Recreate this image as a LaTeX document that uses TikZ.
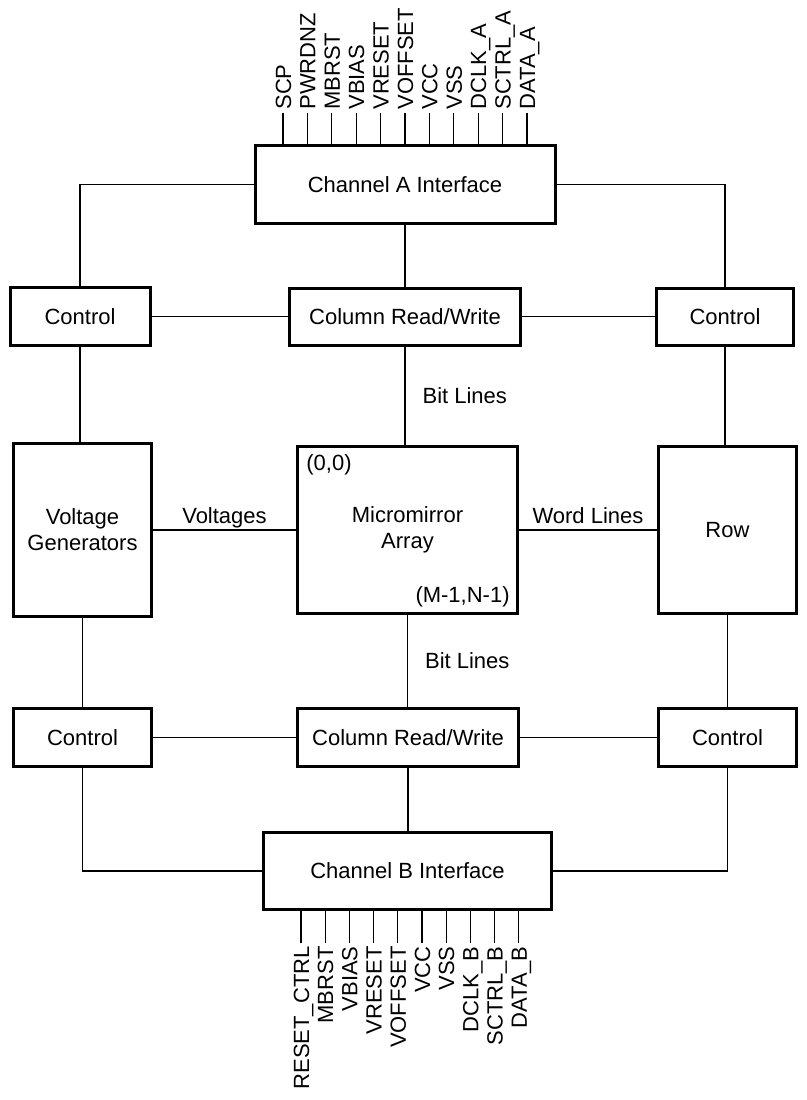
\documentclass[tikz,border=0pt]{standalone}
\usepackage{fontspec}
\setmainfont{Liberation Sans}
\usepackage{tikz}

\begin{document}
\begin{tikzpicture}[
		x=0.5pt, y=-0.5pt,
		blk/.style={draw, line width=1.5pt, inner sep=0pt, align=center,
			font=\fontsize{11}{13}\selectfont},
		wire/.style={line width=0.6pt},
		sig/.style={inner sep=0.5pt, font=\fontsize{11}{13}\selectfont},
		pinlbl/.style={rotate=90, inner sep=1.5pt, text height=8pt, text depth=0pt,
			font=\fontsize{11}{13}\selectfont}
	]
	\useasboundingbox (0,0) rectangle (807,1100);

	% blocks
	\node[blk, minimum width=150pt, minimum height=39pt] (chA)
		at (405,184.5) {Channel A Interface};
	\node[blk, minimum width=70pt, minimum height=29pt] (ctlAL)
		at (80,316.5) {Control};
	\node[blk, minimum width=115.5pt, minimum height=28.5pt] (colA)
		at (405,316.5) {Column Read/Write};
	\node[blk, minimum width=68.5pt, minimum height=28.5pt] (ctlAR)
		at (725,316.5) {Control};
	\node[blk, minimum width=69pt, minimum height=86.5pt] (volt)
		at (82.5,530) {Voltage\\Generators};
	\node[blk, minimum width=110pt, minimum height=83.5pt] (mma)
		at (407.5,530) {Micromirror\\Array};
	\node[blk, minimum width=69pt, minimum height=83.5pt] (row)
		at (727.5,530) {Row};
	\node[blk, minimum width=69pt, minimum height=29pt] (ctlBL)
		at (82.5,737.5) {Control};
	\node[blk, minimum width=110.5pt, minimum height=29pt] (colB)
		at (408,737.5) {Column Read/Write};
	\node[blk, minimum width=69pt, minimum height=29pt] (ctlBR)
		at (727.5,737.5) {Control};
	\node[blk, minimum width=144pt, minimum height=38.5pt] (chB)
		at (407.5,871) {Channel B Interface};

	% array corners
	\node[sig, anchor=west] (orig) at (305,465) {(0,0)};
	\node[sig, anchor=east] (last) at (511,597) {(M-1,N-1)};

	% connections
	\draw[wire]
		(chA.west) -| (ctlAL.north)
		(chA.east) -| (ctlAR.north)
		(chA.south) -- (chA.south |- colA.north)
		(ctlAL.east) -- (colA.west)
		(colA.east) -- (ctlAR.west)
		(ctlAL.south) -- (ctlAL.south |- volt.north)
		(ctlAR.south) -- (ctlAR.south |- row.north)
		(volt.south) -- (volt.south |- ctlBL.north)
		(row.south) -- (row.south |- ctlBR.north)
		(ctlBL.east) -- (colB.west)
		(colB.east) -- (ctlBR.west)
		(colB.south) -- (colB.south |- chB.north)
		(chB.west) -| (ctlBL.south)
		(chB.east) -| (ctlBR.south);
	\draw[wire]
		(colA.south) -- node[sig, right=8pt] {Bit Lines}
			(colA.south |- mma.north);
	\draw[wire]
		(mma.south) -- node[sig, right=8pt] {Bit Lines}
			(mma.south |- colB.north);
	\draw[wire]
		(volt.east) -- node[sig, above, text depth=2.5pt] {Voltages}
			(mma.west);
	\draw[wire]
		(mma.east) -- node[sig, above, text depth=2.5pt] {Word Lines}
			(row.west);

	% channel A pins
	\node[pinlbl, anchor=west] (paSCP) at (283,113) {SCP};
	\node[pinlbl, anchor=west] (paPWR) at (307.4,113) {PWRDNZ};
	\node[pinlbl, anchor=west] (paMBR) at (331.8,113) {MBRST};
	\node[pinlbl, anchor=west] (paVBI) at (356.2,113) {VBIAS};
	\node[pinlbl, anchor=west] (paVRE) at (380.6,113) {VRESET};
	\node[pinlbl, anchor=west] (paVOF) at (405,113) {VOFFSET};
	\node[pinlbl, anchor=west] (paVCC) at (429.4,113) {VCC};
	\node[pinlbl, anchor=west] (paVSS) at (453.8,113) {VSS};
	\node[pinlbl, anchor=west] (paDCK) at (478.2,113) {DCLK\_A};
	\node[pinlbl, anchor=west] (paSCT) at (502.6,113) {SCTRL\_A};
	\node[pinlbl, anchor=west] (paDAT) at (527,113) {DATA\_A};
	\draw[wire]
		(paSCP.west) -- (paSCP.west |- chA.north)
		(paPWR.west) -- (paPWR.west |- chA.north)
		(paMBR.west) -- (paMBR.west |- chA.north)
		(paVBI.west) -- (paVBI.west |- chA.north)
		(paVRE.west) -- (paVRE.west |- chA.north)
		(paVOF.west) -- (paVOF.west |- chA.north)
		(paVCC.west) -- (paVCC.west |- chA.north)
		(paVSS.west) -- (paVSS.west |- chA.north)
		(paDCK.west) -- (paDCK.west |- chA.north)
		(paSCT.west) -- (paSCT.west |- chA.north)
		(paDAT.west) -- (paDAT.west |- chA.north);

	% channel B pins
	\node[pinlbl, anchor=east] (pbRST) at (301,943) {RESET\_CTRL};
	\node[pinlbl, anchor=east] (pbMBR) at (325.2,943) {MBRST};
	\node[pinlbl, anchor=east] (pbVBI) at (349.4,943) {VBIAS};
	\node[pinlbl, anchor=east] (pbVRE) at (373.6,943) {VRESET};
	\node[pinlbl, anchor=east] (pbVOF) at (397.8,943) {VOFFSET};
	\node[pinlbl, anchor=east] (pbVCC) at (422,943) {VCC};
	\node[pinlbl, anchor=east] (pbVSS) at (446.2,943) {VSS};
	\node[pinlbl, anchor=east] (pbDCK) at (470.4,943) {DCLK\_B};
	\node[pinlbl, anchor=east] (pbSCT) at (494.6,943) {SCTRL\_B};
	\node[pinlbl, anchor=east] (pbDAT) at (518.8,943) {DATA\_B};
	\draw[wire]
		(pbRST.east) -- (pbRST.east |- chB.south)
		(pbMBR.east) -- (pbMBR.east |- chB.south)
		(pbVBI.east) -- (pbVBI.east |- chB.south)
		(pbVRE.east) -- (pbVRE.east |- chB.south)
		(pbVOF.east) -- (pbVOF.east |- chB.south)
		(pbVCC.east) -- (pbVCC.east |- chB.south)
		(pbVSS.east) -- (pbVSS.east |- chB.south)
		(pbDCK.east) -- (pbDCK.east |- chB.south)
		(pbSCT.east) -- (pbSCT.east |- chB.south)
		(pbDAT.east) -- (pbDAT.east |- chB.south);
\end{tikzpicture}
\end{document}
